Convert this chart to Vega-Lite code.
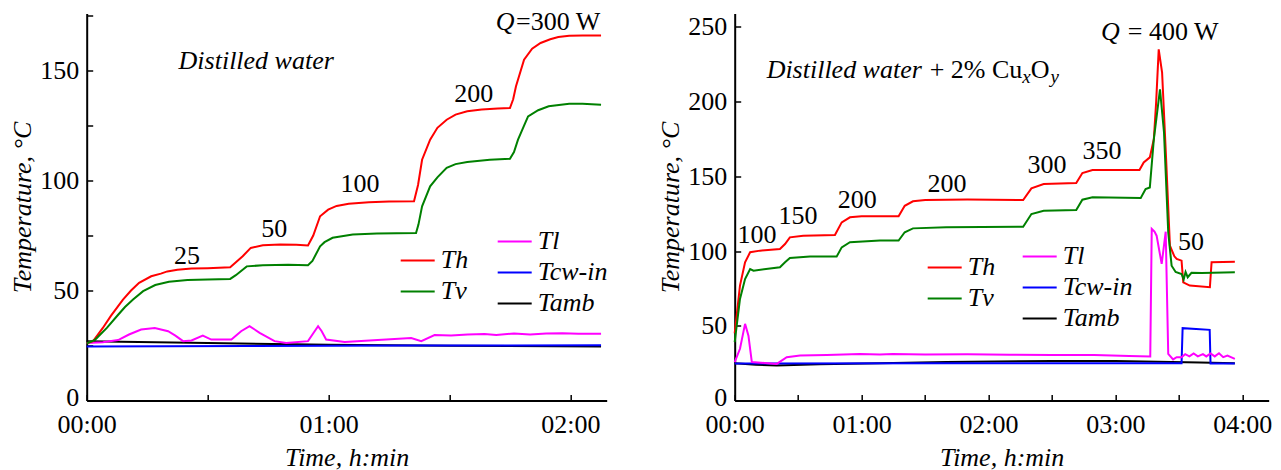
{
"$schema": "https://vega.github.io/schema/vega-lite/v6.json",
"background": "white",
"padding": {"left": 9.7, "top": 8.5, "right": 0, "bottom": 0},
"spacing": 50,
"config": {
  "view": {"stroke": null},
  "font": "Liberation Serif",
  "axis": {"grid": false, "domainColor": "black", "domainWidth": 2, "tickColor": "black", "tickWidth": 1.5, "tickSize": -6, "labelFlush": false,
    "labelFont": "Liberation Serif", "labelFontSize": 26, "labelColor": "black", "labelPadding": 14,
    "titleFont": "Liberation Serif", "titleFontSize": 26, "titleFontWeight": "normal", "titleFontStyle": "italic", "titleColor": "black"},
  "axisX": {"labelPadding": 17, "titlePadding": 6.7},
  "axisY": {"labelOffset": {"condition": {"test": "datum.value == 0", "value": -3}, "value": 0}},
  "legend": {"symbolType": "stroke", "symbolSize": 1156, "symbolStrokeWidth": 2, "labelFont": "Liberation Serif", "labelFontSize": 26,
    "labelFontStyle": "italic", "labelColor": "black", "labelOffset": 5, "rowPadding": -5, "padding": 0, "title": null},
  "text": {"font": "Liberation Serif", "fontSize": 26, "color": "black"}
},
"datasets": {
"left": [
{"s":"Th","t":0,"T":26},{"s":"Th","t":1.6,"T":27},{"s":"Th","t":4,"T":33},{"s":"Th","t":6,"T":38.5},{"s":"Th","t":9,"T":45.9},{"s":"Th","t":11,"T":50},{"s":"Th","t":13,"T":53.5},{"s":"Th","t":16,"T":56.5},{"s":"Th","t":18.4,"T":57.7},{"s":"Th","t":20,"T":58.7},{"s":"Th","t":22.5,"T":59.5},{"s":"Th","t":26,"T":60},{"s":"Th","t":30,"T":60.2},{"s":"Th","t":35.6,"T":60.6},{"s":"Th","t":36.8,"T":62.5},{"s":"Th","t":38.7,"T":65.6},{"s":"Th","t":40.7,"T":69.4},{"s":"Th","t":43.7,"T":70.6},{"s":"Th","t":48,"T":71},{"s":"Th","t":52,"T":70.8},{"s":"Th","t":54.9,"T":70.5},{"s":"Th","t":56.2,"T":75},{"s":"Th","t":57.9,"T":83.8},{"s":"Th","t":59.9,"T":86.8},{"s":"Th","t":62,"T":88.5},{"s":"Th","t":65,"T":89.5},{"s":"Th","t":70,"T":90.2},{"s":"Th","t":75,"T":90.5},{"s":"Th","t":81.2,"T":90.6},{"s":"Th","t":82.2,"T":98},{"s":"Th","t":83.2,"T":109.5},{"s":"Th","t":85.2,"T":118.6},{"s":"Th","t":87,"T":124},{"s":"Th","t":89.3,"T":127.7},{"s":"Th","t":91.5,"T":130},{"s":"Th","t":94.4,"T":131.5},{"s":"Th","t":98,"T":132.3},{"s":"Th","t":102,"T":132.8},{"s":"Th","t":105,"T":133},{"s":"Th","t":105.8,"T":137},{"s":"Th","t":106.5,"T":142.9},{"s":"Th","t":108.5,"T":155},{"s":"Th","t":110.5,"T":160},{"s":"Th","t":112.6,"T":162.6},{"s":"Th","t":115,"T":164.3},{"s":"Th","t":117,"T":165.3},{"s":"Th","t":119.7,"T":165.9},{"s":"Th","t":123,"T":166},{"s":"Th","t":127.6,"T":166},
{"s":"Tv","t":0,"T":26},{"s":"Tv","t":2,"T":27.5},{"s":"Tv","t":5,"T":33},{"s":"Tv","t":7.8,"T":39},{"s":"Tv","t":9.5,"T":42.5},{"s":"Tv","t":11.5,"T":45.9},{"s":"Tv","t":14,"T":49.7},{"s":"Tv","t":17,"T":52.5},{"s":"Tv","t":20.4,"T":54},{"s":"Tv","t":25,"T":54.8},{"s":"Tv","t":30,"T":55},{"s":"Tv","t":35.6,"T":55.3},{"s":"Tv","t":37,"T":57},{"s":"Tv","t":39.7,"T":61},{"s":"Tv","t":43.7,"T":61.5},{"s":"Tv","t":50,"T":61.7},{"s":"Tv","t":54.9,"T":61.5},{"s":"Tv","t":56,"T":63.5},{"s":"Tv","t":57.9,"T":70.1},{"s":"Tv","t":59,"T":72},{"s":"Tv","t":61,"T":74},{"s":"Tv","t":66,"T":75.5},{"s":"Tv","t":72,"T":76},{"s":"Tv","t":81.7,"T":76.2},{"s":"Tv","t":82.3,"T":80},{"s":"Tv","t":83.2,"T":88.3},{"s":"Tv","t":85.2,"T":97.4},{"s":"Tv","t":87,"T":101.5},{"s":"Tv","t":89.3,"T":105.8},{"s":"Tv","t":91.5,"T":107.5},{"s":"Tv","t":94.4,"T":108.5},{"s":"Tv","t":100,"T":109.5},{"s":"Tv","t":105,"T":109.9},{"s":"Tv","t":106,"T":113},{"s":"Tv","t":107,"T":118.6},{"s":"Tv","t":108.5,"T":125},{"s":"Tv","t":109.5,"T":129.2},{"s":"Tv","t":112,"T":132},{"s":"Tv","t":114.6,"T":133.8},{"s":"Tv","t":119.7,"T":135},{"s":"Tv","t":123,"T":135},{"s":"Tv","t":127.6,"T":134.5},
{"s":"Tamb","t":0,"T":27},{"s":"Tamb","t":30,"T":26.2},{"s":"Tamb","t":60,"T":25.3},{"s":"Tamb","t":90,"T":24.9},{"s":"Tamb","t":127.6,"T":24.6},
{"s":"Tcw-in","t":0,"T":24.6},{"s":"Tcw-in","t":40,"T":24.8},{"s":"Tcw-in","t":80,"T":25},{"s":"Tcw-in","t":127.6,"T":25.1},
{"s":"Tl","t":0,"T":26.2},{"s":"Tl","t":4,"T":26.5},{"s":"Tl","t":7.8,"T":27.5},{"s":"Tl","t":10.5,"T":30},{"s":"Tl","t":13.5,"T":32.3},{"s":"Tl","t":16.9,"T":33},{"s":"Tl","t":20.2,"T":31.5},{"s":"Tl","t":22,"T":29.5},{"s":"Tl","t":23.9,"T":27},{"s":"Tl","t":26,"T":27.3},{"s":"Tl","t":28.8,"T":29.5},{"s":"Tl","t":30.9,"T":27.7},{"s":"Tl","t":35.9,"T":27.7},{"s":"Tl","t":38.3,"T":31.5},{"s":"Tl","t":40.4,"T":33.8},{"s":"Tl","t":42.9,"T":30.8},{"s":"Tl","t":46.6,"T":27},{"s":"Tl","t":49.5,"T":26.2},{"s":"Tl","t":54.9,"T":27},{"s":"Tl","t":56,"T":30},{"s":"Tl","t":57.4,"T":33.8},{"s":"Tl","t":58.3,"T":31.5},{"s":"Tl","t":59.4,"T":27.7},{"s":"Tl","t":64,"T":26.6},{"s":"Tl","t":72.2,"T":27.5},{"s":"Tl","t":80.5,"T":28.4},{"s":"Tl","t":83,"T":27},{"s":"Tl","t":86.3,"T":29.8},{"s":"Tl","t":90.4,"T":29.6},{"s":"Tl","t":94.5,"T":30},{"s":"Tl","t":98.7,"T":30.2},{"s":"Tl","t":101.6,"T":29.8},{"s":"Tl","t":106,"T":30.5},{"s":"Tl","t":110,"T":30},{"s":"Tl","t":114,"T":30.5},{"s":"Tl","t":118,"T":30.6},{"s":"Tl","t":122,"T":30.3},{"s":"Tl","t":127.6,"T":30.3}
],
"right": [
{"s":"Th","t":0,"T":45},{"s":"Th","t":2.5,"T":76.9},{"s":"Th","t":4.9,"T":92.5},{"s":"Th","t":7.3,"T":99.2},{"s":"Th","t":12,"T":100.3},{"s":"Th","t":21.4,"T":101.4},{"s":"Th","t":23.8,"T":104.7},{"s":"Th","t":26.1,"T":109.2},{"s":"Th","t":32.4,"T":110.3},{"s":"Th","t":47.4,"T":110.7},{"s":"Th","t":50.6,"T":119.2},{"s":"Th","t":54.5,"T":122.6},{"s":"Th","t":60,"T":123.3},{"s":"Th","t":77.5,"T":123.3},{"s":"Th","t":80.4,"T":130.3},{"s":"Th","t":84.3,"T":133.3},{"s":"Th","t":90.1,"T":134.2},{"s":"Th","t":110,"T":134.5},{"s":"Th","t":136.4,"T":134.2},{"s":"Th","t":140.3,"T":142},{"s":"Th","t":146.1,"T":144.9},{"s":"Th","t":161.5,"T":145.5},{"s":"Th","t":164.4,"T":152.2},{"s":"Th","t":169.2,"T":154.2},{"s":"Th","t":191.4,"T":154.2},{"s":"Th","t":193.4,"T":159.3},{"s":"Th","t":196.3,"T":162.7},{"s":"Th","t":198.2,"T":175},{"s":"Th","t":199.3,"T":200},{"s":"Th","t":200.5,"T":235},{"s":"Th","t":202.1,"T":219.5},{"s":"Th","t":204,"T":161.6},{"s":"Th","t":205.8,"T":103.6},{"s":"Th","t":207.9,"T":96.5},{"s":"Th","t":209,"T":94.7},{"s":"Th","t":211.3,"T":93.6},{"s":"Th","t":212.1,"T":79.1},{"s":"Th","t":215.2,"T":76.9},{"s":"Th","t":224.7,"T":75.8},{"s":"Th","t":225.5,"T":92.5},{"s":"Th","t":236.5,"T":92.9},
{"s":"Tv","t":0,"T":39},{"s":"Tv","t":2.5,"T":68},{"s":"Tv","t":4.9,"T":81.3},{"s":"Tv","t":7.3,"T":88},{"s":"Tv","t":8.9,"T":86.9},{"s":"Tv","t":21.4,"T":89.2},{"s":"Tv","t":23.8,"T":92.5},{"s":"Tv","t":26.1,"T":95.4},{"s":"Tv","t":35.6,"T":96.3},{"s":"Tv","t":48.2,"T":96.3},{"s":"Tv","t":50.6,"T":102.5},{"s":"Tv","t":54.5,"T":105.9},{"s":"Tv","t":68.7,"T":107},{"s":"Tv","t":77.5,"T":107},{"s":"Tv","t":80.4,"T":112.6},{"s":"Tv","t":84.3,"T":115.2},{"s":"Tv","t":100,"T":116},{"s":"Tv","t":136.4,"T":116.3},{"s":"Tv","t":140.3,"T":124.8},{"s":"Tv","t":146.1,"T":127},{"s":"Tv","t":161.5,"T":127.5},{"s":"Tv","t":164.4,"T":134.4},{"s":"Tv","t":169.2,"T":136},{"s":"Tv","t":192,"T":135.6},{"s":"Tv","t":194.3,"T":141.5},{"s":"Tv","t":196.3,"T":142.6},{"s":"Tv","t":198.2,"T":175},{"s":"Tv","t":201.1,"T":208.3},{"s":"Tv","t":203,"T":179.4},{"s":"Tv","t":205,"T":112.6},{"s":"Tv","t":206.6,"T":90.2},{"s":"Tv","t":208.5,"T":86},{"s":"Tv","t":211.3,"T":84.7},{"s":"Tv","t":212.3,"T":81},{"s":"Tv","t":213.2,"T":86},{"s":"Tv","t":214.2,"T":82.5},{"s":"Tv","t":216,"T":85.5},{"s":"Tv","t":220.9,"T":85.4},{"s":"Tv","t":236.5,"T":85.8},
{"s":"Tamb","t":0,"T":25},{"s":"Tamb","t":10,"T":24},{"s":"Tamb","t":19.9,"T":23.4},{"s":"Tamb","t":40,"T":24.3},{"s":"Tamb","t":68.7,"T":25},{"s":"Tamb","t":100,"T":25.8},{"s":"Tamb","t":150,"T":26.5},{"s":"Tamb","t":180,"T":26.5},{"s":"Tamb","t":200,"T":26},{"s":"Tamb","t":220,"T":25.5},{"s":"Tamb","t":236.5,"T":25},
{"s":"Tcw-in","t":0,"T":24.7},{"s":"Tcw-in","t":100,"T":25},{"s":"Tcw-in","t":211.3,"T":25},{"s":"Tcw-in","t":211.8,"T":48.4},{"s":"Tcw-in","t":224.6,"T":47.3},{"s":"Tcw-in","t":225,"T":24.7},{"s":"Tcw-in","t":236.5,"T":24.7},
{"s":"Tl","t":0,"T":25.7},{"s":"Tl","t":2.5,"T":34.6},{"s":"Tl","t":4.9,"T":51.3},{"s":"Tl","t":6.5,"T":43.4},{"s":"Tl","t":8.1,"T":25.7},{"s":"Tl","t":19.9,"T":24.5},{"s":"Tl","t":24.6,"T":29},{"s":"Tl","t":30.9,"T":30.1},{"s":"Tl","t":43.5,"T":30.5},{"s":"Tl","t":59.2,"T":31.2},{"s":"Tl","t":68.7,"T":30.8},{"s":"Tl","t":74.7,"T":31.2},{"s":"Tl","t":90,"T":30.8},{"s":"Tl","t":110,"T":31},{"s":"Tl","t":130,"T":30.7},{"s":"Tl","t":150,"T":30.5},{"s":"Tl","t":170,"T":30.5},{"s":"Tl","t":186.6,"T":29.7},{"s":"Tl","t":196.5,"T":29.5},{"s":"Tl","t":197.2,"T":114.8},{"s":"Tl","t":198.5,"T":113},{"s":"Tl","t":199.5,"T":110.3},{"s":"Tl","t":201.9,"T":91.4},{"s":"Tl","t":203.8,"T":113},{"s":"Tl","t":205,"T":31.2},{"s":"Tl","t":207.3,"T":27.5},{"s":"Tl","t":209,"T":29},{"s":"Tl","t":211.3,"T":29},{"s":"Tl","t":213,"T":31},{"s":"Tl","t":215,"T":29.5},{"s":"Tl","t":217,"T":31.5},{"s":"Tl","t":219,"T":29.5},{"s":"Tl","t":221.4,"T":31},{"s":"Tl","t":223,"T":29.5},{"s":"Tl","t":225,"T":31.5},{"s":"Tl","t":227,"T":29.5},{"s":"Tl","t":229,"T":31.6},{"s":"Tl","t":231,"T":29},{"s":"Tl","t":233,"T":30},{"s":"Tl","t":236.5,"T":27.9}
]
},
"resolve": {"scale": {"color": "independent", "stroke": "independent"}, "legend": {"color": "independent", "stroke": "independent"}},
"hconcat": [
{
  "width": 520, "height": 387,
  "layer": [
    {"data": {"name": "left"}, "transform": [{"filter": "datum.s == 'Tamb' || datum.s == 'Tcw-in' || datum.s == 'Tl'"}],
     "mark": {"type": "line", "strokeWidth": 2},
     "encoding": {
       "x": {"field": "t", "type": "quantitative", "scale": {"domain": [0, 129], "nice": false, "zero": false},
             "axis": {"title": "Time, h:min", "values": [0, 30, 60, 90, 120], "labelExpr": "datum.value % 60 == 0 ? '0' + (datum.value / 60) + ':00' : ''"}},
       "y": {"field": "T", "type": "quantitative", "scale": {"domain": [0, 176], "nice": false},
             "axis": {"title": "Temperature, °C", "values": [0, 25, 50, 75, 100, 125, 150, 175], "labelExpr": "datum.value % 50 == 0 ? datum.value : ''"}},
       "stroke": {"field": "s", "type": "nominal", "scale": {"domain": ["Tl", "Tcw-in", "Tamb"], "range": ["#ff00ff", "#0000ff", "#000000"]},
                  "legend": {"orient": "none", "legendX": 410, "legendY": 210}}
     }},
    {"data": {"name": "left"}, "transform": [{"filter": "datum.s == 'Th' || datum.s == 'Tv'"}],
     "mark": {"type": "line", "strokeWidth": 2},
     "encoding": {
       "x": {"field": "t", "type": "quantitative"},
       "y": {"field": "T", "type": "quantitative"},
       "color": {"field": "s", "type": "nominal", "scale": {"domain": ["Th", "Tv"], "range": ["#ff0000", "#008000"]},
                 "legend": {"orient": "none", "legendX": 313, "legendY": 229}}
     }},
    {"data": {"values": [{"t": 24.9, "T": 65.9, "label": "25"}, {"t": 46.5, "T": 78, "label": "50"}, {"t": 67.8, "T": 98.5, "label": "100"}, {"t": 96, "T": 139.4, "label": "200"}]},
     "mark": {"type": "text", "align": "center", "baseline": "middle"},
     "encoding": {"x": {"field": "t", "type": "quantitative"}, "y": {"field": "T", "type": "quantitative"}, "text": {"field": "label"}}},
    {"data": {"values": [{"t": 22.8, "T": 154.5, "label": "Distilled water"}, {"t": 101.5, "T": 172.3, "label": "Q"}]},
     "mark": {"type": "text", "align": "left", "baseline": "middle", "fontStyle": "italic"},
     "encoding": {"x": {"field": "t", "type": "quantitative"}, "y": {"field": "T", "type": "quantitative"}, "text": {"field": "label"}}},
    {"data": {"values": [{"t": 106.5, "T": 172.3, "label": "=300 W"}]},
     "mark": {"type": "text", "align": "left", "baseline": "middle"},
     "encoding": {"x": {"field": "t", "type": "quantitative"}, "y": {"field": "T", "type": "quantitative"}, "text": {"field": "label"}}}
  ]
},
{
  "width": 534, "height": 387,
  "layer": [
    {"data": {"name": "right"}, "transform": [{"filter": "datum.s == 'Tamb' || datum.s == 'Tcw-in' || datum.s == 'Tl'"}],
     "mark": {"type": "line", "strokeWidth": 2},
     "encoding": {
       "x": {"field": "t", "type": "quantitative", "scale": {"domain": [0, 252.5], "nice": false, "zero": false},
             "axis": {"title": "Time, h:min", "values": [0, 30, 60, 90, 120, 150, 180, 210, 240], "labelExpr": "datum.value % 60 == 0 ? '0' + (datum.value / 60) + ':00' : ''"}},
       "y": {"field": "T", "type": "quantitative", "scale": {"domain": [0, 259], "nice": false},
             "axis": {"title": "Temperature, °C", "values": [0, 25, 50, 75, 100, 125, 150, 175, 200, 225, 250], "labelExpr": "datum.value % 50 == 0 ? datum.value : ''"}},
       "stroke": {"field": "s", "type": "nominal", "scale": {"domain": ["Tl", "Tcw-in", "Tamb"], "range": ["#ff00ff", "#0000ff", "#000000"]},
                  "legend": {"orient": "none", "legendX": 287, "legendY": 225}}
     }},
    {"data": {"name": "right"}, "transform": [{"filter": "datum.s == 'Th' || datum.s == 'Tv'"}],
     "mark": {"type": "line", "strokeWidth": 2},
     "encoding": {
       "x": {"field": "t", "type": "quantitative"},
       "y": {"field": "T", "type": "quantitative"},
       "color": {"field": "s", "type": "nominal", "scale": {"domain": ["Th", "Tv"], "range": ["#ff0000", "#008000"]},
                 "legend": {"orient": "none", "legendX": 192, "legendY": 236}}
     }},
    {"data": {"values": [{"t": 10.5, "T": 110.5, "label": "100"}, {"t": 29.9, "T": 123.8, "label": "150"}, {"t": 57.9, "T": 134.3, "label": "200"}, {"t": 100.4, "T": 144.6, "label": "200"}, {"t": 147.7, "T": 157.3, "label": "300"}, {"t": 173.7, "T": 166.7, "label": "350"}, {"t": 215.8, "T": 106, "label": "50"}]},
     "mark": {"type": "text", "align": "center", "baseline": "middle"},
     "encoding": {"x": {"field": "t", "type": "quantitative"}, "y": {"field": "T", "type": "quantitative"}, "text": {"field": "label"}}},
    {"data": {"values": [{"t": 15.1, "T": 220.9, "label": "Distilled water"}, {"t": 173.2, "T": 246.6, "label": "Q"}]},
     "mark": {"type": "text", "align": "left", "baseline": "middle", "fontStyle": "italic"},
     "encoding": {"x": {"field": "t", "type": "quantitative"}, "y": {"field": "T", "type": "quantitative"}, "text": {"field": "label"}}},
    {"data": {"values": [{"t": 92.2, "T": 220.9, "label": "+ 2% Cu"}, {"t": 140.0, "T": 220.9, "label": "O"}, {"t": 185.9, "T": 246.6, "label": "= 400 W"}]},
     "mark": {"type": "text", "align": "left", "baseline": "middle"},
     "encoding": {"x": {"field": "t", "type": "quantitative"}, "y": {"field": "T", "type": "quantitative"}, "text": {"field": "label"}}},
    {"data": {"values": [{"t": 136.0, "T": 220.9, "label": "x"}, {"t": 149.3, "T": 220.9, "label": "y"}]},
     "mark": {"type": "text", "align": "left", "baseline": "middle", "fontStyle": "italic", "fontSize": 19, "dy": 7},
     "encoding": {"x": {"field": "t", "type": "quantitative"}, "y": {"field": "T", "type": "quantitative"}, "text": {"field": "label"}}}
  ]
}
]
}
